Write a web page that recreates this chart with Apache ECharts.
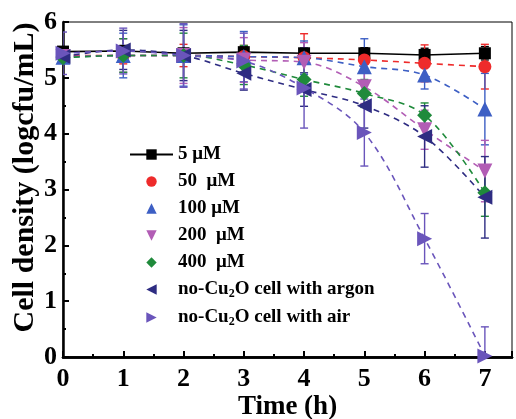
<!DOCTYPE html>
<html>
<head>
<meta charset="utf-8">
<script src="https://cdn.jsdelivr.net/npm/echarts@6/dist/echarts.min.js"></script>
<style>html,body{margin:0;padding:0;background:#fff}#c{width:516px;height:419px}</style>
</head>
<body>
<div id="c"></div>
<script>
const time = [0, 1, 2, 3, 4, 5, 6, 7];
const xTicks = ['0', '1', '2', '3', '4', '5', '6', '7'];
const yTicks = ['0', '1', '2', '3', '4', '5', '6'];
const names = ['5 μM', '50  μM', '100 μM', '200  μM', '400  μM', 'no-Cu2O cell with argon', 'no-Cu2O cell with air'];

const c5   = [5.47, 5.48, 5.44, 5.46, 5.44, 5.44, 5.41, 5.44];
const c50  = [5.40, 5.40, 5.40, 5.38, 5.36, 5.32, 5.26, 5.20];
const c100 = [5.37, 5.40, 5.40, 5.38, 5.36, 5.20, 5.05, 4.44];
const c200 = [5.38, 5.40, 5.40, 5.32, 5.28, 4.84, 4.07, 3.33];
const c400 = [5.36, 5.40, 5.40, 5.23, 4.97, 4.72, 4.33, 2.94];
const cAr  = [5.38, 5.50, 5.40, 5.08, 4.79, 4.50, 3.95, 2.86];
const cAir = [5.44, 5.48, 5.40, 5.30, 4.82, 4.02, 2.12, 0.02];

const e5   = [0.05, 0.10, 0.05, 0.10, 0.10, 0.10, 0.12, 0.12];
const e50  = [0.05, 0.15, 0.20, 0.20, 0.43, 0.20, 0.33, 0.40];
const e100 = [0.10, 0.40, 0.55, 0.45, 0.30, 0.50, 0.25, 0.64];
const e200 = [0.10, 0.30, 0.50, 0.40, 0.35, 0.30, 0.35, 0.55];
const e400 = [0.10, 0.30, 0.40, 0.35, 0.30, 0.25, 0.22, 0.42];
const eAr  = [0.10, 0.35, 0.45, 0.30, 0.30, 0.40, 0.55, 0.73];
const eAir = [0.38, 0.41, 0.57, 0.50, 0.72, 0.60, 0.45, 0.52];

const vals = [c5, c50, c100, c200, c400, cAr, cAir];
const errs = [e5, e50, e100, e200, e400, eAr, eAir];
const colors = ['#000000', '#ee2b2b', '#3d5fc4', '#b25db5', '#1f8a3b', '#2e2c82', '#6a55bb'];
const symbols = ['rect', 'circle', 'triangle', 'triangle', 'diamond', 'triangle', 'triangle'];
const rotates = [0, 0, 0, 180, 0, 90, -90];
const sizes = [12, 13, 15, 15, 15, 15, 15];

const FONT = '"Liberation Serif", "Times New Roman", serif';

function errSeries(i) {
  const data = time.map((t, k) => [t, vals[i][k], errs[i][k]]);
  return {
    type: 'custom',
    name: 'err-' + i,
    clip: true,
    z: 1,
    silent: true,
    data: data,
    encode: { x: 0, y: 1 },
    renderItem: function (params, api) {
      const x = api.value(0), y = api.value(1), e = api.value(2);
      const top = api.coord([x, y + e]);
      const bot = api.coord([x, y - e]);
      const w = 4;
      const st = { stroke: colors[i], lineWidth: 1.4 };
      return {
        type: 'group',
        children: [
          { type: 'line', shape: { x1: top[0], y1: top[1], x2: bot[0], y2: bot[1] }, style: st },
          { type: 'line', shape: { x1: top[0] - w, y1: top[1], x2: top[0] + w, y2: top[1] }, style: st },
          { type: 'line', shape: { x1: bot[0] - w, y1: bot[1], x2: bot[0] + w, y2: bot[1] }, style: st }
        ]
      };
    }
  };
}

const series = [];
for (let i = 0; i < vals.length; i++) series.push(errSeries(i));
for (let i = 0; i < vals.length; i++) {
  series.push({
    type: 'line',
    name: names[i],
    data: time.map((t, k) => [t, vals[i][k]]),
    symbol: symbols[i],
    symbolSize: sizes[i],
    symbolRotate: rotates[i],
    smooth: i === 0 ? false : 0.35,
    z: 3,
    itemStyle: { color: colors[i] },
    lineStyle: i === 0
      ? { color: '#000', width: 1.6, type: 'solid' }
      : { color: colors[i], width: 1.6, type: [6, 5] }
  });
}

const chart = echarts.init(document.getElementById('c'), null, { renderer: 'canvas' });
chart.setOption({
  animation: false,
  backgroundColor: '#fff',
  grid: { left: 63, right: 4, top: 22, bottom: 62, show: true, borderColor: '#000', borderWidth: 1, containLabel: false, outerBoundsMode: 'none' },
  legend: {
    left: 129, top: 145, orient: 'vertical', padding: 0,
    itemWidth: 43, itemHeight: 13, itemGap: 8,
    data: names.map((n, i) => i === 0 ? { name: n } : { name: n, lineStyle: { opacity: 0 } }),
    formatter: function (n) { return n.replace('Cu2O', 'Cu{sub|2}O'); },
    textStyle: {
      fontFamily: FONT, fontWeight: 'bold', fontSize: 19, color: '#000',
      rich: { sub: { fontFamily: FONT, fontWeight: 'bold', fontSize: 12, padding: [9, 0, 0, 0], color: '#000' } }
    }
  },
  xAxis: [{
    type: 'value', min: 0, max: 7.45, interval: 1,
    name: 'Time (h)', nameLocation: 'middle', nameGap: 37, nameMoveOverlap: false,
    nameTextStyle: { fontFamily: FONT, fontWeight: 'bold', fontSize: 27, color: '#000' },
    axisLine: { show: true, onZero: false, lineStyle: { color: '#000', width: 2.5 } },
    axisTick: { show: true, inside: true, length: 6, lineStyle: { color: '#000', width: 2 } },
    minorTick: { show: true, splitNumber: 2, length: 3, lineStyle: { color: '#000', width: 2 } },
    splitLine: { show: false },
    axisLabel: {
      margin: 9, fontFamily: FONT, fontWeight: 'bold', fontSize: 26, color: '#000',
      formatter: function (v) { return Number.isInteger(v) ? xTicks[v] : ''; }
    }
  }, {
    type: 'value', min: 0, max: 7.45, position: 'top',
    axisLine: { show: true, lineStyle: { color: '#000', width: 2.5 } },
    axisTick: { show: false }, axisLabel: { show: false }, splitLine: { show: false }
  }],
  yAxis: {
    type: 'value', min: 0, max: 6, interval: 1,
    name: 'Cell density (logcfu/mL)', nameLocation: 'middle', nameGap: 23, nameMoveOverlap: false,
    nameTextStyle: { fontFamily: FONT, fontWeight: 'bold', fontSize: 30, color: '#000', padding: [0, 0, 0, 24] },
    axisLine: { show: true, onZero: false, lineStyle: { color: '#000', width: 2.5 } },
    axisTick: { show: true, inside: true, length: 6, lineStyle: { color: '#000', width: 2 } },
    minorTick: { show: true, splitNumber: 2, length: 3, lineStyle: { color: '#000', width: 2 } },
    splitLine: { show: false },
    axisLabel: {
      margin: 6, fontFamily: FONT, fontWeight: 'bold', fontSize: 26, color: '#000',
      formatter: function (v) { return Number.isInteger(v) ? yTicks[v] : ''; }
    }
  },
  series: series
});
</script>
</body>
</html>
